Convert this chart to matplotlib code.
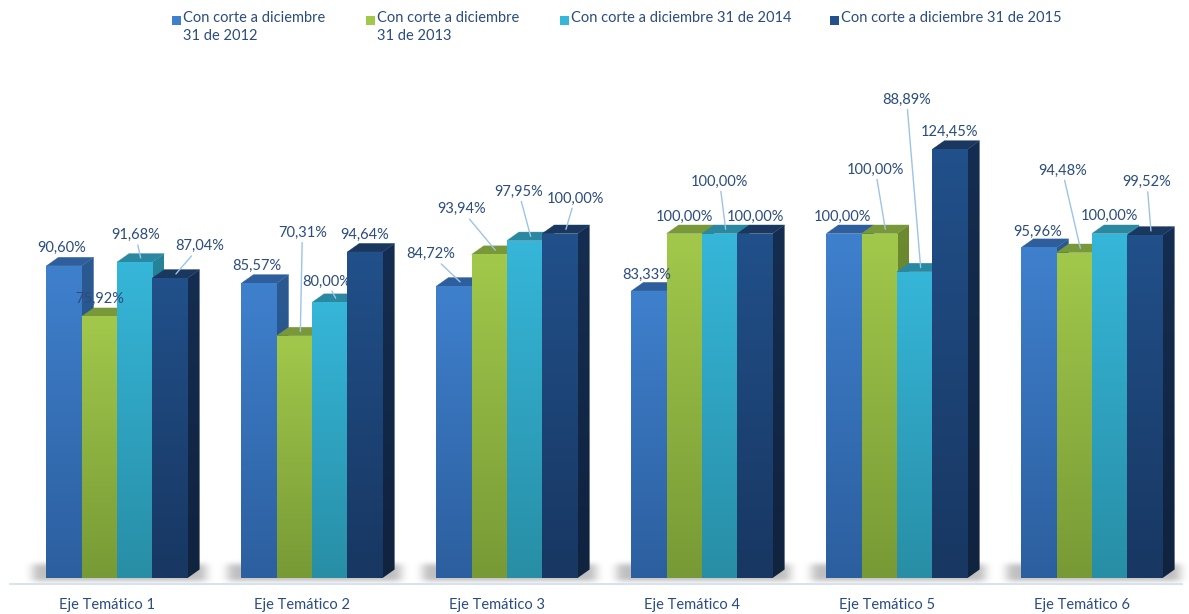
import numpy as np
import matplotlib.pyplot as plt
from matplotlib.patches import Polygon
from matplotlib.colors import to_rgb

# datos del gráfico
categories = ['Eje Temático 1', 'Eje Temático 2', 'Eje Temático 3',
              'Eje Temático 4', 'Eje Temático 5', 'Eje Temático 6']
series_names = ['Con corte a diciembre\n31 de 2012',
                'Con corte a diciembre\n31 de 2013',
                'Con corte a diciembre 31 de 2014',
                'Con corte a diciembre 31 de 2015']
v2012 = [90.60, 85.57, 84.72, 83.33, 100.00, 95.96]
v2013 = [75.92, 70.31, 93.94, 100.00, 100.00, 94.48]
v2014 = [91.68, 80.00, 97.95, 100.00, 88.89, 100.00]
v2015 = [87.04, 94.64, 100.00, 100.00, 124.45, 99.52]
values = [v2012, v2013, v2014, v2015]

# desplazamiento de etiquetas (px, respecto al borde frontal superior) y si llevan línea guía
label_offsets = [
    [(-2, -18, 0), (-2, -17, 0), (-23, -32, 1), (-2, -16, 0), (-2, -17, 0), (-1, -16, 0)],
    [(0, -18, 0), (8, -103, 1), (-28, -45, 1), (0, -17, 0), (-4, -64, 1), (-12, -82, 1)],
    [(1, -27, 1), (-3, -21, 1), (-6, -49, 1), (0, -52, 1), (-8, -172, 1), (0, -18, 0)],
    [(30, -32, 1), (0, -17, 0), (15, -35, 1), (0, -17, 0), (0, -17, 0), (2, -53, 1)],
]

# colores: frente arriba, frente abajo, tapa, lateral arriba, lateral abajo
colors = [
    ('#3F80CD', '#2C5F9F', '#2E5E9B', '#2B5A93', '#23497A'),
    ('#A2C84B', '#789A36', '#78983A', '#6C8B30', '#587228'),
    ('#36B6D9', '#288EA6', '#2A88A0', '#26839A', '#1E6A7E'),
    ('#21508A', '#183762', '#19375F', '#152D50', '#10233F'),
]
text_color = '#2B4C7E'
font = ['Lato', 'DejaVu Sans']

W, H = 1189, 614
px_x = 195.0      # px por unidad en x (distancia entre grupos)
px_y = 3.445      # px por punto porcentual
base_px = 578     # línea base en px desde arriba
bar_w = 35.3 / px_x
dx = 12 / px_x
dy = 8.5 / px_y

fig = plt.figure(figsize=(W / 100, H / 100), dpi=100)
ax = fig.add_axes([0, 0, 1, 1])
ax.set_xlim(-117 / px_x, (W - 117) / px_x)
ax.set_ylim(-(H - base_px) / px_y, base_px / px_y)
ax.axis('off')

x = np.arange(len(categories))

# sombra bajo cada grupo
gx = np.linspace(*ax.get_xlim(), W)
gy = np.linspace(-6, 10, 56)
XX, YY = np.meshgrid(gx, gy)
mask = np.zeros_like(XX)
for g in x:
    left = g - 2 * bar_w - 14 / px_x
    right = g + 2 * bar_w + dx + 6 / px_x
    mask[(XX > left) & (XX < right) & (YY > -0.8) & (YY < 4.0)] = 1.0
for _ in range(3):
    mask = np.apply_along_axis(lambda r: np.convolve(r, np.ones(9) / 9, mode='same'), 1, mask)
    mask = np.apply_along_axis(lambda c: np.convolve(c, np.ones(5) / 5, mode='same'), 0, mask)
shadow = np.zeros(mask.shape + (4,))
shadow[..., :3] = 0.4
shadow[..., 3] = mask * 0.42
ax.imshow(shadow, extent=(gx[0], gx[-1], gy[0], gy[-1]), origin='lower',
          aspect='auto', zorder=1, interpolation='bilinear')

# línea base
ax.plot([(10 - 117) / px_x, (1182 - 117) / px_x], [-(584 - base_px) / px_y] * 2,
        color='#D5E0EE', lw=1.3, zorder=1.5)


def grad_image(top, bottom, n=64):
    t = np.linspace(0, 1, n)[:, None]
    c = np.array(to_rgb(bottom)) * (1 - t) + np.array(to_rgb(top)) * t
    return c[:, None, :]


# barras con efecto 3D
for g in x:
    for j, vals in enumerate(values):
        z = 2 + g * 0.1 + j * 0.02
        ft, fb, tc, st, sb = colors[j]
        bar = ax.bar(g + (j - 1.5) * bar_w, vals[g], width=bar_w,
                     color='none', edgecolor='none', zorder=z + 0.003)[0]
        x0 = bar.get_x()
        x1 = x0 + bar.get_width()
        v = bar.get_height()
        # lateral
        side = Polygon([(x1, 0), (x1 + dx, dy), (x1 + dx, v + dy), (x1, v)],
                       closed=True, facecolor='none', edgecolor='none', zorder=z)
        ax.add_patch(side)
        im = ax.imshow(grad_image(st, sb), extent=(x1, x1 + dx, 0, v + dy),
                       origin='lower', aspect='auto', zorder=z, interpolation='bilinear')
        im.set_clip_path(side)
        # tapa
        ax.add_patch(Polygon([(x0, v), (x1, v), (x1 + dx, v + dy), (x0 + dx, v + dy)],
                             closed=True, facecolor=tc, edgecolor=tc, lw=0.3, zorder=z + 0.001))
        # frente
        im = ax.imshow(grad_image(ft, fb), extent=(x0, x1, 0, v),
                       origin='lower', aspect='auto', zorder=z + 0.002, interpolation='bilinear')
        im.set_clip_path(bar)

# etiquetas de datos
for g in x:
    for j, vals in enumerate(values):
        v = vals[g]
        xc = g + (j - 1.5) * bar_w
        ox, oy, lead = label_offsets[j][g]
        txt = f'{v:.2f}%'.replace('.', ',')
        arrow = dict(arrowstyle='-', color='#9DC3E6', lw=1.0, shrinkA=0, shrinkB=0) if lead else None
        ax.annotate(txt, xy=(xc + dx / 2, v + dy / 2),
                    xytext=(ox - 6, -oy - 4.25), textcoords='offset pixels',
                    ha='center', va='center', fontsize=10.5, color=text_color,
                    family=font, arrowprops=arrow, zorder=10)

# etiquetas de categoría
for g, name in zip(x, categories):
    ax.text(g - 10 / px_x, -(605 - base_px) / px_y, name, ha='center', va='center',
            fontsize=10.5, color=text_color, family=font)

# leyenda
leg_x = [172, 366, 560, 830]
for j, name in enumerate(series_names):
    fig.patches.append(plt.Rectangle((leg_x[j] / W, 1 - 25 / H), 9 / W, 9 / H,
                                     transform=fig.transFigure, facecolor=colors[j][0],
                                     edgecolor='none'))
    fig.text((leg_x[j] + 11) / W, 1 - 11 / H, name, ha='left', va='top',
             fontsize=10.5, color=text_color, family=font, linespacing=1.35)

fig.savefig('out.png', dpi=100)
